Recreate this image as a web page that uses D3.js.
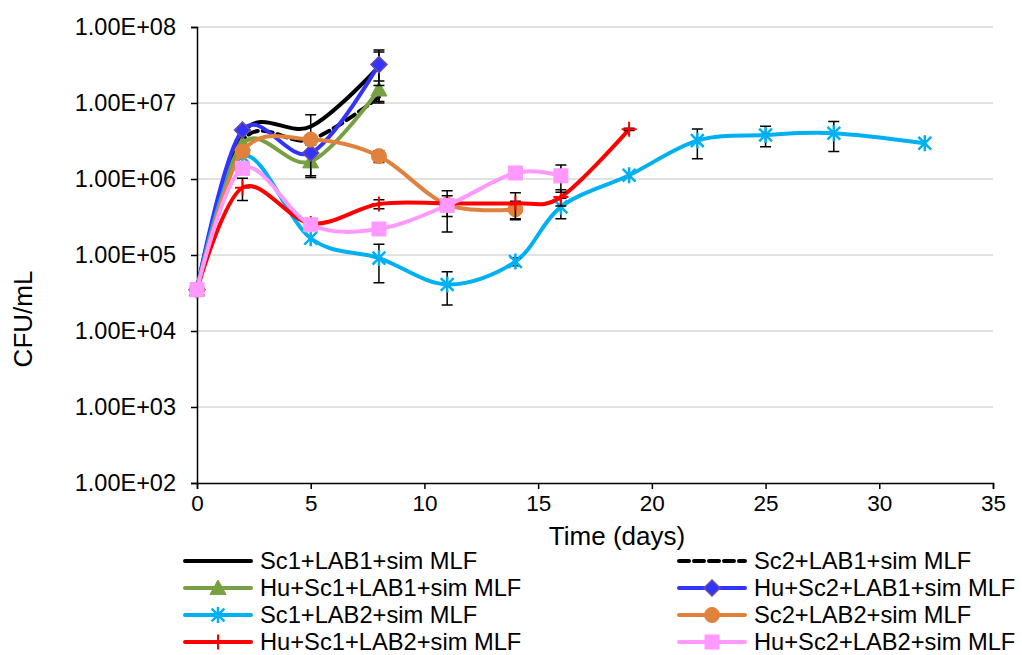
<!DOCTYPE html>
<html>
<head>
<meta charset="utf-8">
<script src="https://cdn.jsdelivr.net/npm/d3@7"></script>
<style>
  html, body { margin: 0; padding: 0; background: #fff; }
  svg { display: block; font-family: "Liberation Sans", Arial, sans-serif; }
</style>
</head>
<body>
<svg id="chart" width="1022" height="655"></svg>
<script>
// Sampling days for each group of cultures
const daysLAB1 = [0, 2, 5, 8];
const daysSc1LAB2 = [0, 2, 5, 8, 11, 14, 16, 19, 22, 25, 28, 32];
const daysSc2LAB2 = [0, 2, 5, 8, 11, 14];
const daysHuSc1LAB2 = [0, 2, 5, 8, 11, 14, 16, 19];
const daysHuSc2LAB2 = [0, 2, 5, 8, 11, 14, 16];

// Mean counts (CFU/mL)
const sc1Lab1 = [3.5e4, 4.0e6, 4.9e6, 3.0e7];
const sc2Lab1 = [3.5e4, 3.2e6, 3.3e6, 1.2e7];
const huSc1Lab1 = [3.5e4, 2.9e6, 1.7e6, 1.5e7];
const huSc2Lab1 = [3.5e4, 4.4e6, 2.2e6, 3.2e7];
const sc1Lab2 = [3.5e4, 2.0e6, 1.66e5, 9.1e4, 4.1e4, 8.2e4, 4.3e5, 1.12e6, 3.2e6, 3.8e6, 4.0e6, 2.95e6];
const sc2Lab2 = [3.5e4, 2.3e6, 3.3e6, 2.0e6, 4.6e5, 4.0e5];
const huSc1Lab2 = [3.5e4, 7.7e5, 2.6e5, 4.7e5, 4.8e5, 4.8e5, 5.8e5, 4.5e6];
const huSc2Lab2 = [3.5e4, 1.38e6, 2.5e5, 2.2e5, 4.5e5, 1.2e6, 1.1e6];

// Standard deviations (null where no error bar is shown)
const sc1Lab1Sd = [null, null, 2.1e6, 2.0e7];
const sc2Lab1Sd = [null, null, null, null];
const huSc1Lab1Sd = [null, null, 0.65e6, 0.45e7];
const huSc2Lab1Sd = [null, null, 1.1e6, 1.5e7];
const sc1Lab2Sd = [null, null, null, 4.8e4, 1.9e4, 1.0e4, 1.3e5, null, 1.35e6, 1.15e6, 1.7e6, null];
const sc2Lab2Sd = [null, null, null, 0.35e6, 1.4e5, 1.1e5];
const huSc1Lab2Sd = [null, 2.5e5, null, 0.65e5, null, 1.8e5, 1.4e5, 0.15e6];
const huSc2Lab2Sd = [null, null, null, null, 2.5e5, null, 0.43e6];

// Series names, in legend order
const seriesNames = [
  "Sc1+LAB1+sim MLF", "Sc2+LAB1+sim MLF",
  "Hu+Sc1+LAB1+sim MLF", "Hu+Sc2+LAB1+sim MLF",
  "Sc1+LAB2+sim MLF", "Sc2+LAB2+sim MLF",
  "Hu+Sc1+LAB2+sim MLF", "Hu+Sc2+LAB2+sim MLF"
];

// Axis ticks
const xTicks = [0, 5, 10, 15, 20, 25, 30, 35];
const yTicks = [1e2, 1e3, 1e4, 1e5, 1e6, 1e7, 1e8];
const xTitle = "Time (days)";
const yTitle = "CFU/mL";

const series = [
  { name: seriesNames[0], days: daysLAB1, values: sc1Lab1, sd: sc1Lab1Sd, color: "#000000", marker: null, dash: null },
  { name: seriesNames[1], days: daysLAB1, values: sc2Lab1, sd: sc2Lab1Sd, color: "#000000", marker: null, dash: "10,5" },
  { name: seriesNames[2], days: daysLAB1, values: huSc1Lab1, sd: huSc1Lab1Sd, color: "#77a043", marker: "triangle", dash: null },
  { name: seriesNames[3], days: daysLAB1, values: huSc2Lab1, sd: huSc2Lab1Sd, color: "#3333ff", marker: "diamond", dash: null },
  { name: seriesNames[4], days: daysSc1LAB2, values: sc1Lab2, sd: sc1Lab2Sd, color: "#00b0f0", marker: "asterisk", dash: null },
  { name: seriesNames[5], days: daysSc2LAB2, values: sc2Lab2, sd: sc2Lab2Sd, color: "#e0823d", marker: "circle", dash: null },
  { name: seriesNames[6], days: daysHuSc1LAB2, values: huSc1Lab2, sd: huSc1Lab2Sd, color: "#ff0000", marker: "plus", dash: null },
  { name: seriesNames[7], days: daysHuSc2LAB2, values: huSc2Lab2, sd: huSc2Lab2Sd, color: "#ff99ff", marker: "square", dash: null }
];

const svg = d3.select("#chart");
const plot = { left: 197, right: 993, top: 27, bottom: 483 };

const x = d3.scaleLinear().domain([0, 35]).range([plot.left, plot.right]);
const y = d3.scaleLog().domain([1e2, 1e8]).range([plot.bottom, plot.top]);

const fmtY = d => "1.00E+" + String(Math.round(Math.log10(d))).padStart(2, "0");

// Horizontal gridlines
svg.append("g").selectAll("line")
  .data(yTicks.filter(t => t > 1e2))
  .join("line")
  .attr("x1", plot.left).attr("x2", plot.right)
  .attr("y1", d => y(d)).attr("y2", d => y(d))
  .attr("stroke", "#d9d9d9").attr("stroke-width", 1.5);

// Y axis
const yAxis = svg.append("g")
  .attr("transform", `translate(${plot.left},0)`)
  .call(d3.axisLeft(y).tickValues(yTicks).tickFormat(fmtY).tickSize(6).tickPadding(15));
yAxis.select(".domain").attr("stroke", "#000").attr("stroke-width", 1.5);
yAxis.selectAll(".tick line").attr("stroke", "#000").attr("stroke-width", 1.5);
yAxis.selectAll("text").attr("font-size", 23.5).attr("fill", "#000")
  .attr("font-family", "'Liberation Sans', Arial, sans-serif");

// X axis
const xAxis = svg.append("g")
  .attr("transform", `translate(0,${plot.bottom})`)
  .call(d3.axisBottom(x).tickValues(xTicks).tickFormat(d3.format("d")).tickSize(6).tickPadding(6));
xAxis.select(".domain").attr("stroke", "#000").attr("stroke-width", 1.5);
xAxis.selectAll(".tick line").attr("stroke", "#000").attr("stroke-width", 1.5);
xAxis.selectAll("text").attr("font-size", 22.5).attr("fill", "#000")
  .attr("font-family", "'Liberation Sans', Arial, sans-serif");

// Axis titles
svg.append("text")
  .attr("x", 617).attr("y", 545)
  .attr("text-anchor", "middle").attr("font-size", 26).text(xTitle);
svg.append("text")
  .attr("transform", "translate(32,319) rotate(-90)")
  .attr("text-anchor", "middle").attr("font-size", 26).text(yTitle);

// Marker drawing
function drawMarker(g, type, color, cx, cy) {
  if (!type) return;
  if (type === "triangle") {
    const s = 8;
    g.append("path")
      .attr("d", `M${cx},${cy - s}L${cx + s},${cy + s * 0.8}L${cx - s},${cy + s * 0.8}Z`)
      .attr("fill", color).attr("stroke", color).attr("stroke-width", 1);
  } else if (type === "diamond") {
    const s = 8;
    g.append("path")
      .attr("d", `M${cx},${cy - s}L${cx + s},${cy}L${cx},${cy + s}L${cx - s},${cy}Z`)
      .attr("fill", color).attr("stroke", "#6a4c9c").attr("stroke-width", 1.5);
  } else if (type === "circle") {
    g.append("circle").attr("cx", cx).attr("cy", cy).attr("r", 7.5)
      .attr("fill", color).attr("stroke", color);
  } else if (type === "square") {
    const s = 7;
    g.append("rect").attr("x", cx - s).attr("y", cy - s)
      .attr("width", 2 * s).attr("height", 2 * s)
      .attr("fill", color).attr("stroke", color);
  } else if (type === "asterisk") {
    const s = 8;
    const d = s * 0.8;
    g.append("path")
      .attr("d", `M${cx},${cy - s}L${cx},${cy + s}M${cx - d},${cy - d}L${cx + d},${cy + d}M${cx - d},${cy + d}L${cx + d},${cy - d}`)
      .attr("stroke", color).attr("stroke-width", 2.5).attr("fill", "none");
  } else if (type === "plus") {
    const s = 7.5;
    g.append("path")
      .attr("d", `M${cx},${cy - s}L${cx},${cy + s}M${cx - s},${cy}L${cx + s},${cy}`)
      .attr("stroke", color).attr("stroke-width", 2).attr("fill", "none");
  }
}

const line = d3.line()
  .x(d => x(d.day)).y(d => y(d.value))
  .curve(d3.curveCatmullRom.alpha(0));

const seriesLayer = svg.append("g");
series.forEach(s => {
  const pts = s.days.map((day, i) => ({ day, value: s.values[i], sd: s.sd[i] }));
  const g = seriesLayer.append("g");
  g.append("path")
    .datum(pts)
    .attr("d", line)
    .attr("fill", "none")
    .attr("stroke", s.color)
    .attr("stroke-width", 4)
    .attr("stroke-linecap", "round")
    .attr("stroke-dasharray", s.dash);

  // Error bars (mean ± SD)
  pts.filter(p => p.sd != null).forEach(p => {
    const px = x(p.day);
    const top = y(p.value + p.sd);
    const bot = y(Math.max(p.value - p.sd, 1e2));
    const cap = 5.5;
    g.append("path")
      .attr("d", `M${px},${top}L${px},${bot}M${px - cap},${top}L${px + cap},${top}M${px - cap},${bot}L${px + cap},${bot}`)
      .attr("stroke", "#000").attr("stroke-width", 1.5).attr("fill", "none");
  });

  pts.forEach(p => drawMarker(g, s.marker, s.color, x(p.day), y(p.value)));
});

// Legend (two columns, four rows)
const legendRows = [561, 588, 615, 642];
const legendCols = [183, 677];
const legend = svg.append("g");
series.forEach((s, i) => {
  const col = i % 2;
  const row = Math.floor(i / 2);
  const lx = legendCols[col];
  const ly = legendRows[row];
  legend.append("line")
    .attr("x1", lx + 2).attr("x2", lx + 68)
    .attr("y1", ly).attr("y2", ly)
    .attr("stroke", s.color).attr("stroke-width", 4)
    .attr("stroke-linecap", "round")
    .attr("stroke-dasharray", s.dash);
  drawMarker(legend, s.marker, s.color, lx + 35, ly);
  legend.append("text")
    .attr("x", lx + 77).attr("y", ly)
    .attr("dy", "0.35em")
    .attr("font-size", 23.7)
    .text(s.name);
});
</script>
</body>
</html>
